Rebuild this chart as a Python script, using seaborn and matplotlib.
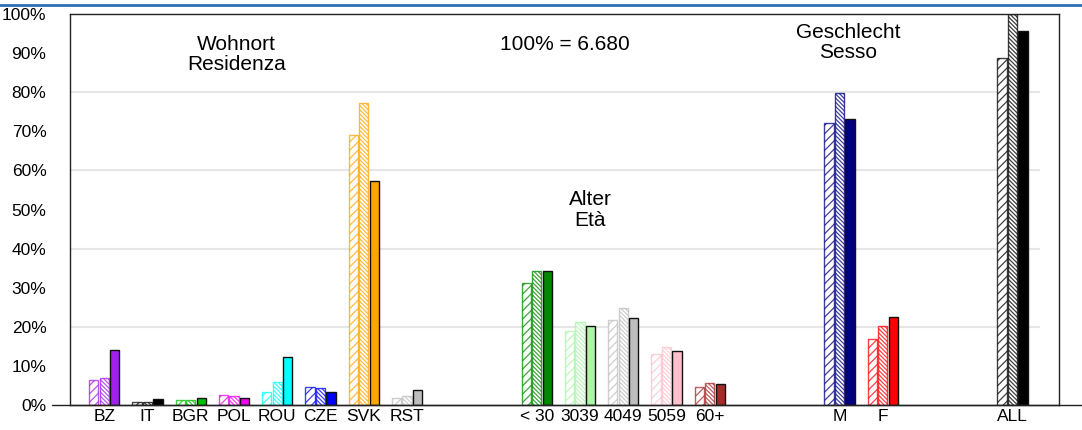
import pandas as pd
import seaborn as sns
import matplotlib.pyplot as plt
from matplotlib.lines import Line2D
from matplotlib.colors import to_rgba

# categories and their slot on the x axis (gaps between blocks)
categories = ["BZ", "IT", "BGR", "POL", "ROU", "CZE", "SVK", "RST",
              "< 30", "3039", "4049", "5059", "60+", "M", "F", "ALL"]
positions = [1, 2, 3, 4, 5, 6, 7, 8, 11, 12, 13, 14, 15, 18, 19, 22]
colors = ["#a020f0", "#000000", "#00c000", "#f000f0", "#00ffff", "#0000ff",
          "#ffa500", "#bebebe", "#008800", "#aaf5aa", "#bebebe", "#ffc0cb",
          "#a52a2a", "#000080", "#ff0000", "#000000"]

# three series per category (percent)
series_names = ["A", "B", "C"]
series1 = [6.4, 0.7, 1.2, 2.5, 3.3, 4.6, 69.0, 1.7, 31.1, 18.9, 21.7, 13.0, 4.5, 72.0, 16.8, 88.7]
series2 = [6.9, 0.7, 1.2, 2.2, 5.9, 4.3, 77.2, 2.2, 34.3, 21.1, 24.7, 14.8, 5.5, 79.9, 20.3, 100.0]
series3 = [14.1, 1.6, 1.8, 1.7, 12.2, 3.3, 57.4, 3.8, 34.3, 20.1, 22.3, 13.7, 5.4, 73.1, 22.5, 95.7]

rows = []
for name, vals in zip(series_names, [series1, series2, series3]):
    for cat, pos, v in zip(categories, positions, vals):
        rows.append({"cat": cat, "pos": pos, "value": v, "series": name})
df = pd.DataFrame(rows)

sns.set_theme(style="white")
plt.rcParams["font.family"] = ["Liberation Sans", "DejaVu Sans"]
plt.rcParams["hatch.linewidth"] = 0.9
plt.rcParams["text.color"] = "black"
plt.rcParams["xtick.color"] = "black"
plt.rcParams["ytick.color"] = "black"

fig = plt.figure(figsize=(10.82, 4.30), dpi=100)
ax = fig.add_axes([70 / 1082, 25 / 430, 988.7 / 1082, 391 / 430])

sns.barplot(data=df, x="pos", y="value", hue="series", hue_order=series_names,
            native_scale=True, width=0.73, gap=0.115, errorbar=None,
            palette=["white", "white", "black"], legend=False, ax=ax)

hatches = ["////", "\\\\\\\\\\\\\\\\", None]
for i, container in enumerate(ax.containers):
    for bar, col in zip(container, colors):
        if i < 2:
            bar.set_facecolor("white")
            bar.set_edgecolor(to_rgba(col, 0.75))
            bar.set_hatch(hatches[i])
            bar.set_linewidth(1.0)
        else:
            bar.set_facecolor(col)
            bar.set_edgecolor("#111111")
            bar.set_linewidth(1.0)
        bar.set_clip_on(True)

# grid lines (only over the data range)
ax.hlines([20, 40, 60, 80], 0.207, 22.64, color="#e6e6e6", lw=1.5, zorder=0)

ax.set_xlim(0.207, 23.07)
ax.set_ylim(0, 100)
ax.set_xticks(positions)
ax.set_xticklabels(categories, fontsize=12.5)
ax.set_yticks(range(0, 101, 10))
ax.set_yticklabels([f"{v}%" for v in range(0, 101, 10)], fontsize=12.5)
ax.tick_params(axis="both", length=0)
ax.tick_params(axis="y", pad=17)
ax.tick_params(axis="x", pad=3)
ax.set_xlabel("")
ax.set_ylabel("")
for side in ["left", "right", "top", "bottom"]:
    ax.spines[side].set_visible(True)
    ax.spines[side].set_color("#222222")
    ax.spines[side].set_linewidth(1.0)

# block labels
ax.text(4.05, 89.6, "Wohnort\nResidenza", ha="center", va="center", fontsize=15, linespacing=1.05)
ax.text(11.65, 92.1, "100% = 6.680", ha="center", va="center", fontsize=15)
ax.text(12.23, 49.9, "Alter\nEtà", ha="center", va="center", fontsize=15, linespacing=1.1)
ax.text(18.2, 92.8, "Geschlecht\nSesso", ha="center", va="center", fontsize=15, linespacing=1.05)

# baseline reaching past the frame and the blue rule at the top
yb = 25 / 430
fig.add_artist(Line2D([52 / 1082, 1.0], [yb, yb], color="#222222", lw=1.0))
fig.add_artist(Line2D([0, 1], [1 - 5 / 430, 1 - 5 / 430], color="#2a6fb6", lw=2.0))

fig.savefig("out.png", dpi=100)
